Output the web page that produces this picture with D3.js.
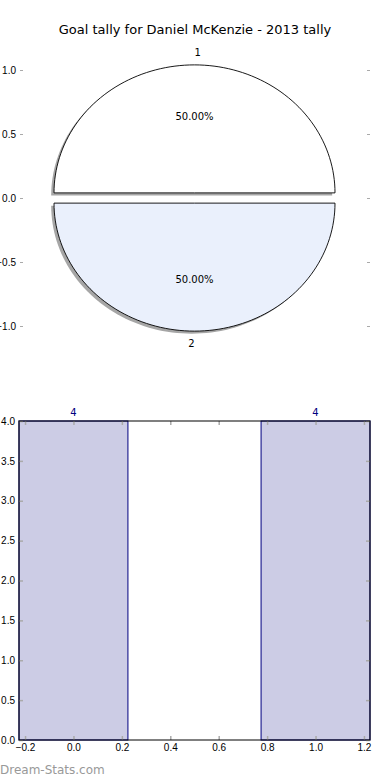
<!DOCTYPE html>
<html>
<head>
<meta charset="utf-8">
<script src="https://cdn.jsdelivr.net/npm/d3@7"></script>
<style>
  body { margin: 0; background: #fff; }
  svg { display: block; font-family: "DejaVu Sans", sans-serif; }
</style>
</head>
<body>
<svg id="chart"></svg>
<script>
const title = 'Goal tally for Daniel McKenzie - 2013 tally';
const sliceLabels = ['1', '2'];
const sliceValues = [4, 4];
const sliceColors = ['#ffffff', '#eaf0fc'];
const pieTicks = [-1, -0.5, 0, 0.5, 1];

const barPositions = [0, 1];
const barValues = [4, 4];
const barXTicks = [-0.2, 0, 0.2, 0.4, 0.6, 0.8, 1.0, 1.2];
const barYTicks = [0, 0.5, 1, 1.5, 2, 2.5, 3, 3.5, 4];

const width = 390, height = 780;
const svg = d3.select('#chart')
  .attr('width', width)
  .attr('height', height)
  .attr('viewBox', `0 0 ${width} ${height}`);

const tickGrey = '#aaaaaa';
const left = 19, right = 370;

svg.append('text')
  .attr('x', 195)
  .attr('y', 34)
  .attr('text-anchor', 'middle')
  .style('font-size', '13px')
  .text(title);

// ---- pie ----
const px = d3.scaleLinear().domain([-1, 1]).range([54, 335]);
const py = d3.scaleLinear().domain([-1, 1]).range([326, 70]);
const explode = 0.04;

const pie = d3.pie().sort(null)
  .startAngle(0).endAngle(2 * Math.PI);
// angles used as matplotlib does them: ccw from 3 o'clock
const arcs = pie(sliceValues).map((a, i) => {
  const t0 = a.startAngle, t1 = a.endAngle;
  const mid = (t0 + t1) / 2;
  return { i, t0, t1, mid, dx: explode * Math.cos(mid), dy: explode * Math.sin(mid) };
});

const line = d3.line().x(d => px(d[0])).y(d => py(d[1]));
const slicePath = (a, ox, oy) => {
  const pts = [[a.dx + ox, a.dy + oy]];
  const n = 90;
  for (let k = 0; k <= n; k++) {
    const t = a.t0 + (a.t1 - a.t0) * k / n;
    pts.push([a.dx + ox + Math.cos(t), a.dy + oy + Math.sin(t)]);
  }
  return line(pts) + 'Z';
};

const pieG = svg.append('g');
arcs.forEach(a => {
  pieG.append('path')
    .attr('d', slicePath(a, -0.02, -0.02))
    .attr('fill', '#a6a6a6')
    .attr('stroke', 'none');
});
arcs.forEach(a => {
  pieG.append('path')
    .attr('d', slicePath(a, 0, 0))
    .attr('fill', sliceColors[a.i])
    .attr('stroke', '#000')
    .attr('stroke-width', 0.9);
});
const total = d3.sum(sliceValues);
arcs.forEach(a => {
  const lx = 1.1 * Math.cos(a.mid) + a.dx, ly = 1.1 * Math.sin(a.mid) + a.dy;
  pieG.append('text')
    .attr('x', px(lx))
    .attr('y', py(ly))
    .attr('dy', '0.35em')
    .attr('text-anchor', a.i === 0 ? 'start' : 'end')
    .style('font-size', '10px')
    .text(sliceLabels[a.i]);
  pieG.append('text')
    .attr('x', px(0.6 * Math.cos(a.mid) + a.dx))
    .attr('y', py(0.6 * Math.sin(a.mid) + a.dy))
    .attr('dy', '0.35em')
    .attr('text-anchor', 'middle')
    .style('font-size', '10px')
    .text(d3.format('.2f')(sliceValues[a.i] / total * 100) + '%');
});

const pieLeft = svg.append('g')
  .attr('transform', `translate(${left + 4},0)`)
  .call(d3.axisLeft(py).tickValues(pieTicks).tickSize(3).tickPadding(4).tickFormat(d3.format('.1f')));
const pieRight = svg.append('g')
  .attr('transform', `translate(${right - 3},0)`)
  .call(d3.axisRight(py).tickValues(pieTicks).tickSize(3).tickFormat(''));
[pieLeft, pieRight].forEach(g => {
  g.select('.domain').remove();
  g.selectAll('.tick line').attr('stroke', tickGrey);
  g.selectAll('text').style('font-size', '10px').attr('fill', '#000');
});

// ---- bar chart ----
const bx = d3.scaleLinear().domain([-0.225, 1.225]).range([left, right]);
const by = d3.scaleLinear().domain([0, 4]).range([740, 421]);
const barW = 0.45;

const barG = svg.append('g');
barG.selectAll('rect')
  .data(barValues)
  .enter().append('rect')
    .attr('x', (d, i) => bx(barPositions[i] - barW / 2))
    .attr('width', bx(barW) - bx(0))
    .attr('y', d => by(d))
    .attr('height', d => by(0) - by(d))
    .attr('fill', '#ccccE5')
    .attr('stroke', '#000080')
    .attr('stroke-width', 1);
barG.selectAll('text')
  .data(barValues)
  .enter().append('text')
    .attr('x', (d, i) => bx(barPositions[i]))
    .attr('y', d => by(d) - 5)
    .attr('text-anchor', 'middle')
    .attr('fill', '#000080')
    .style('font-size', '10px')
    .text(d => d);

const axes = [
  svg.append('g').attr('transform', `translate(${left},0)`)
    .call(d3.axisLeft(by).tickValues(barYTicks).tickSize(-4).tickPadding(4).tickFormat(d3.format('.1f'))),
  svg.append('g').attr('transform', `translate(${right},0)`)
    .call(d3.axisRight(by).tickValues(barYTicks).tickSize(-4).tickFormat('')),
  svg.append('g').attr('transform', 'translate(0,740)')
    .call(d3.axisBottom(bx).tickValues(barXTicks).tickSize(-4).tickPadding(4).tickFormat(d3.format('.1f'))),
  svg.append('g').attr('transform', 'translate(0,421)')
    .call(d3.axisTop(bx).tickValues(barXTicks).tickSize(-4).tickFormat(''))
];
axes.forEach(g => {
  g.select('.domain').remove();
  g.selectAll('.tick line').attr('stroke', tickGrey).attr('stroke-width', 1.5);
  g.selectAll('text').style('font-size', '10px').attr('fill', '#000');
});
svg.append('rect')
  .attr('x', left).attr('y', 421)
  .attr('width', right - left).attr('height', 740 - 421)
  .attr('fill', 'none').attr('stroke', '#000').attr('stroke-width', 1);

svg.append('text')
  .attr('x', 0)
  .attr('y', 774)
  .attr('fill', '#999999')
  .style('font-size', '12px')
  .text('Dream-Stats.com');
</script>
</body>
</html>
